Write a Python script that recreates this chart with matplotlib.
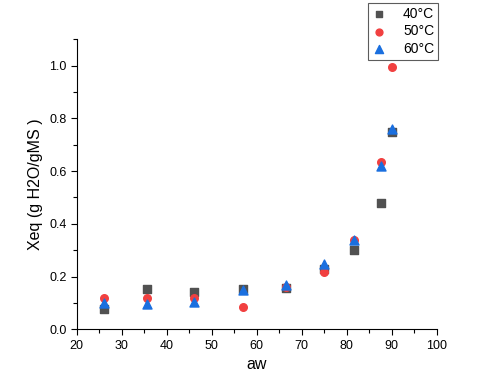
import numpy as np
import matplotlib
matplotlib.use('Agg')
import matplotlib.pyplot as plt
from matplotlib.ticker import MultipleLocator

plt.rcParams['font.family'] = ['Liberation Sans', 'DejaVu Sans']

# water activity (x100) and equilibrium moisture
aw = [26, 35.5, 46, 57, 66.5, 75, 81.5, 87.5, 90]
x40 = [0.076, 0.152, 0.140, 0.153, 0.158, 0.230, 0.299, 0.478, 0.749]
x50 = [0.117, 0.117, 0.117, 0.086, 0.161, 0.218, 0.338, 0.635, 0.995]
x60 = [0.098, 0.095, 0.102, 0.149, 0.169, 0.246, 0.338, 0.619, 0.758]
labels = ['40°C', '50°C', '60°C']

fig = plt.figure(figsize=(4.8, 3.81), dpi=100)
ax = fig.add_axes([0.160, 0.1357, 0.750, 0.7613])

ax.scatter(aw, x40, marker='s', s=26, c='#515151', label=labels[0], zorder=3)
ax.scatter(aw, x50, marker='o', s=30, c='#F14040', label=labels[1], zorder=3)
ax.scatter(aw, x60, marker='^', s=42, c='#1A6FDF', label=labels[2], zorder=3)

ax.set_xlim(20, 100)
ax.set_ylim(0, 1.1)
ax.xaxis.set_major_locator(MultipleLocator(10))
ax.xaxis.set_minor_locator(MultipleLocator(5))
ax.yaxis.set_major_locator(MultipleLocator(0.2))
ax.yaxis.set_minor_locator(MultipleLocator(0.1))
ax.yaxis.set_major_formatter(plt.FormatStrFormatter('%.1f'))

for s in ['top', 'right']:
    ax.spines[s].set_visible(False)
ax.tick_params(which='both', direction='out', labelsize=9, width=0.8)
ax.tick_params(which='major', length=4)
ax.tick_params(which='minor', length=3)

ax.set_xlabel('aw', fontsize=11.5)
ax.set_ylabel('Xeq (g H2O/gMS )', fontsize=11.5)

leg = ax.legend(loc='upper right', bbox_to_anchor=(1.004, 1.126), frameon=True,
                fancybox=False, edgecolor='#333333', fontsize=10,
                handlelength=0.9, handletextpad=1.3, borderpad=0.3,
                labelspacing=0.25, markerscale=0.9, borderaxespad=0)
leg.get_frame().set_linewidth(0.8)

fig.savefig('out.png', dpi=100)
